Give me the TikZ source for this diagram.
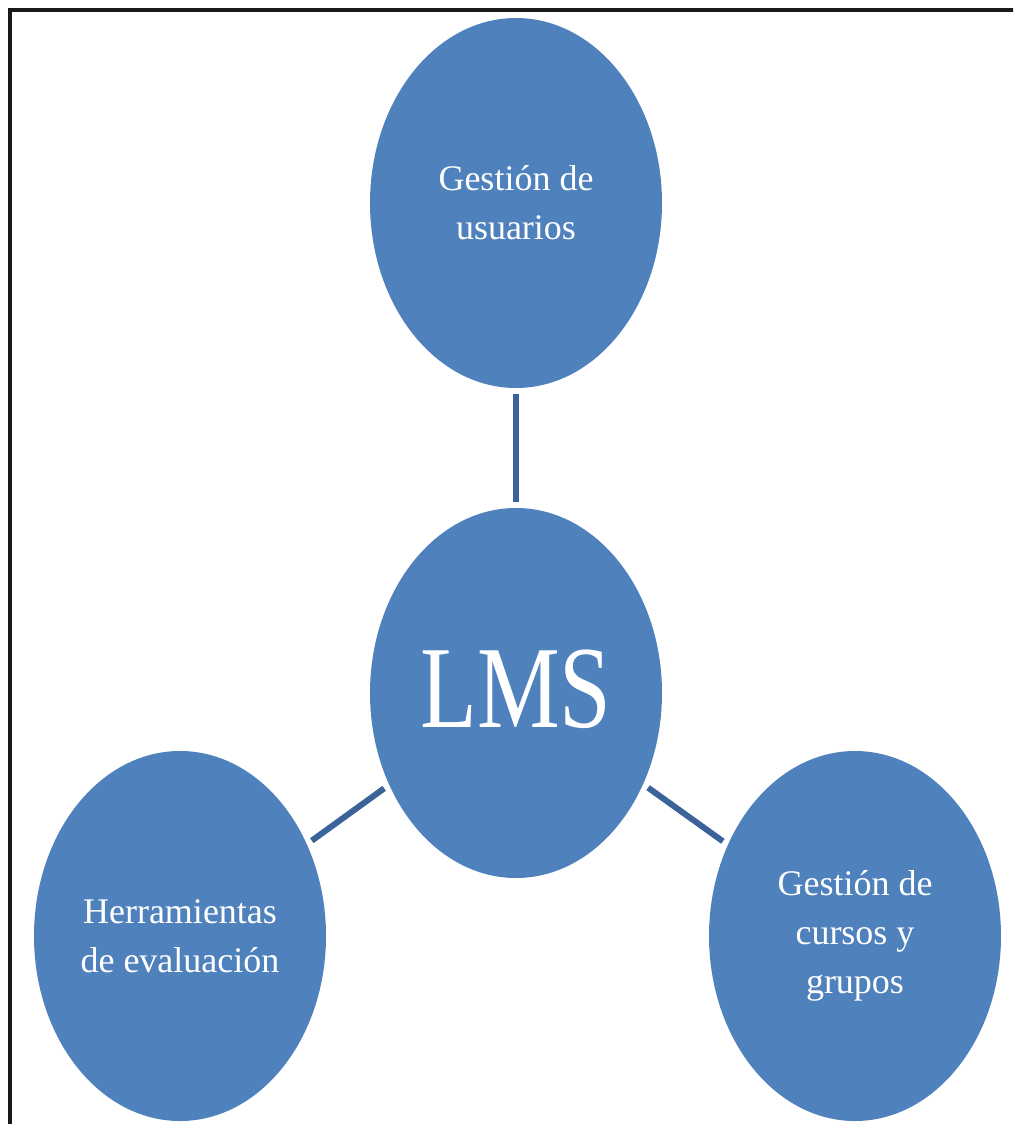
\documentclass[tikz,border=0pt]{standalone}
\usepackage{fontspec}
\setmainfont{Liberation Serif}
\usetikzlibrary{shapes.geometric}
\definecolor{bubble}{HTML}{4F81BD}
\definecolor{link}{HTML}{3B6399}
\tikzset{
  bubblenode/.style={ellipse, fill=bubble, draw=none, minimum width=292pt, minimum height=370pt, inner sep=0pt,
    text=white, align=center, font=\fontsize{36}{49}\selectfont},
  linkline/.style={draw=link, line width=6pt, shorten <=6pt, shorten >=6pt}
}
\begin{document}
\begin{tikzpicture}[x=1pt,y=-1pt]
\useasboundingbox (0,0) rectangle (1013,1124);
\begin{scope}
\clip (0,0) rectangle (1013,1124);
\draw[line width=3.5pt, black!90] (10,10) rectangle (1040,1150);
\end{scope}
\node[bubblenode] (top) at (516,203) {Gestión de\\usuarios};
\node[bubblenode, font=\fontsize{93}{100}\selectfont] (lms) at (516,693) {\raisebox{9pt}{\scalebox{1}[1.26]{LMS}}};
\node[bubblenode] (left) at (180,936) {Herramientas\\de evaluación};
\node[bubblenode] (right) at (855,936) {Gestión de\\cursos y\\grupos};
\draw[linkline] (top) -- (lms);
\draw[linkline] (lms) -- (left);
\draw[linkline] (lms) -- (right);
\end{tikzpicture}
\end{document}
